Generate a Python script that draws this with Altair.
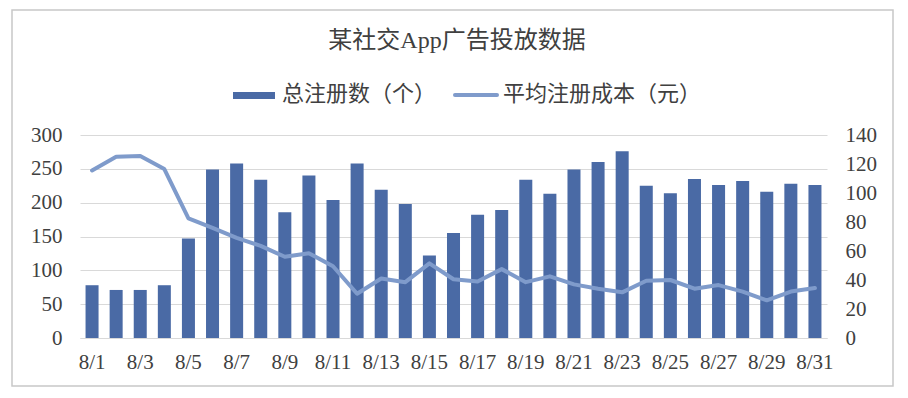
import altair as alt
import pandas as pd

days = ["8/1", "8/2", "8/3", "8/4", "8/5", "8/6", "8/7", "8/8", "8/9", "8/10",
        "8/11", "8/12", "8/13", "8/14", "8/15", "8/16", "8/17", "8/18", "8/19", "8/20",
        "8/21", "8/22", "8/23", "8/24", "8/25", "8/26", "8/27", "8/28", "8/29", "8/30", "8/31"]
registrations = [78, 71, 71, 78, 147, 249, 258, 234, 186, 240,
                 204, 258, 219, 198, 122, 155, 182, 189, 234, 213,
                 249, 260, 276, 225, 214, 235, 226, 232, 216, 228, 226]
avg_cost = [115.5, 125, 125.5, 116.5, 82.5, 76, 69, 63.5, 56, 58.5,
            49.5, 30.5, 41, 38.5, 51.5, 40.5, 39, 47.5, 38.5, 42.5,
            37, 34, 31.5, 39.5, 40, 34, 36.5, 32, 26, 32, 34.5]
series_names = ["总注册数（个）", "平均注册成本（元）"]
title_text = "某社交App广告投放数据"
left_ticks = [0, 50, 100, 150, 200, 250, 300]
right_ticks = [0, 20, 40, 60, 80, 100, 120, 140]

BAR_COLOR = "#4A6AA5"
LINE_COLOR = "#7F9BCB"
TEXT_COLOR = "#404040"
GRID_COLOR = "#d9d9d9"
FONT = "Liberation Serif, Noto Sans CJK SC"
NUM_FONT = "Liberation Serif"

df = pd.DataFrame({"day": days, "reg": registrations, "cost": avg_cost})

W, H = 747, 203

xenc = alt.X("day:N", sort=days,
             scale=alt.Scale(paddingInner=0.46, paddingOuter=0.23),
             axis=alt.Axis(title=None, values=days[::2], labelAngle=0,
                           ticks=False, domainColor=GRID_COLOR, domainWidth=1,
                           labelPadding=13, labelFontSize=21, labelFont=NUM_FONT,
                           labelColor=TEXT_COLOR, grid=False))

bars = alt.Chart(df).mark_bar(color=BAR_COLOR).encode(
    x=xenc,
    y=alt.Y("reg:Q", scale=alt.Scale(domain=[0, 300], nice=False),
            axis=alt.Axis(title=None, values=left_ticks, grid=True,
                          gridColor=GRID_COLOR, gridWidth=1, domain=False,
                          ticks=False, labelPadding=18, labelFontSize=21,
                          labelFont=NUM_FONT, labelColor=TEXT_COLOR, orient="left")),
)

line = alt.Chart(df).mark_line(color=LINE_COLOR, strokeWidth=4,
                               strokeCap="round", strokeJoin="round").encode(
    x=xenc,
    y=alt.Y("cost:Q", scale=alt.Scale(domain=[0, 140], nice=False),
            axis=alt.Axis(title=None, values=right_ticks, grid=False,
                          domain=False, ticks=False, labelPadding=18,
                          labelFontSize=21, labelFont=NUM_FONT, labelAlign="left",
                          labelColor=TEXT_COLOR, orient="right")),
)

main = alt.layer(bars, line).resolve_scale(y="independent")

one = pd.DataFrame({"t": [title_text]})
title = alt.Chart(one).mark_text(fontSize=24, font=FONT, color=TEXT_COLOR,
                                 align="center", baseline="middle").encode(
    text="t:N", x=alt.value(377), y=alt.value(-94))

leg1 = pd.DataFrame({"t": [series_names[0]]})
leg2 = pd.DataFrame({"t": [series_names[1]]})
sw1 = alt.Chart(leg1).mark_rect(color=BAR_COLOR).encode(
    x=alt.value(153), x2=alt.value(195), y=alt.value(-43), y2=alt.value(-36))
tx1 = alt.Chart(leg1).mark_text(fontSize=22, font=FONT, color=TEXT_COLOR,
                                align="left", baseline="middle").encode(
    text="t:N", x=alt.value(202), y=alt.value(-41))
sw2 = alt.Chart(leg2).mark_rule(color=LINE_COLOR, strokeWidth=4, strokeCap="round").encode(
    x=alt.value(375), x2=alt.value(417), y=alt.value(-40))
tx2 = alt.Chart(leg2).mark_text(fontSize=22, font=FONT, color=TEXT_COLOR,
                                align="left", baseline="middle").encode(
    text="t:N", x=alt.value(423), y=alt.value(-41))

border = alt.Chart(one).mark_rect(fill="transparent", stroke="#c8c8c8",
                                  strokeWidth=1.5).encode(
    x=alt.value(-68), x2=alt.value(813), y=alt.value(-125), y2=alt.value(251))

chart = alt.layer(main, border, title, sw1, tx1, sw2, tx2).properties(
    width=W, height=H,
    autosize=alt.AutoSizeParams(type="none"),
    padding={"left": 72, "top": 127, "right": 73, "bottom": 52},
    background="white",
).configure_view(strokeWidth=0)

chart.save("out.html", embed_options={"renderer": "svg", "actions": False})
